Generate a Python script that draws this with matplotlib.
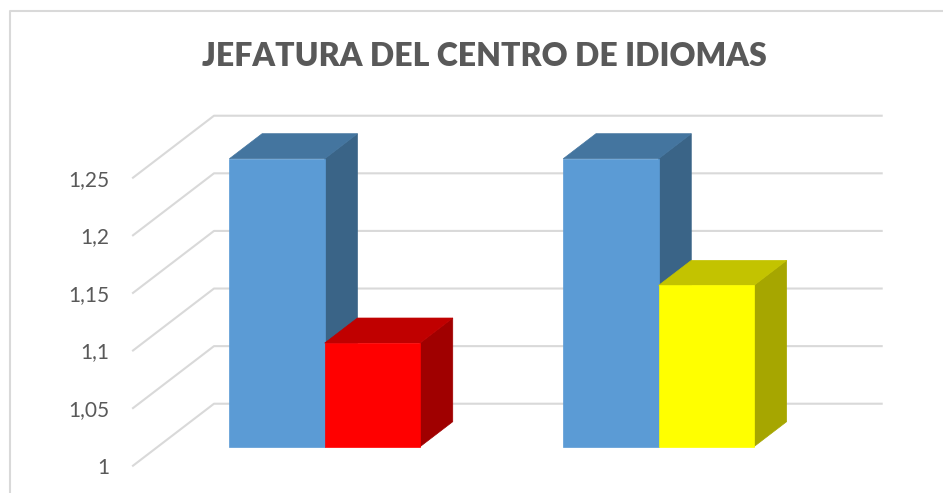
import matplotlib.pyplot as plt
from matplotlib.patches import Polygon
from matplotlib.lines import Line2D

# datos
categorias = ['Grupo 1', 'Grupo 2']
serie_azul = [1.25, 1.25]
serie_color = [1.09, 1.14]
colores_serie2 = ['red', 'yellow']
ticks = [1, 1.05, 1.1, 1.15, 1.2, 1.25]
tick_labels = ['1', '1,05', '1,1', '1,15', '1,2', '1,25']

# caras: frente, arriba, lado
caras = {
    'blue': ('#5B9BD5', '#44759F', '#3A6487'),
    'red': ('#FF0000', '#C00000', '#A00000'),
    'yellow': ('#FFFF00', '#C3C300', '#A6A600'),
}

W, H = 943, 493
fig = plt.figure(figsize=(W / 100, H / 100), dpi=100)
ax = fig.add_axes([133 / W, (H - 465.7) / H, 667.7 / W, 288 / H])
ax.set_xlim(0, 2)
ax.set_ylim(1, 1.25)
for s in ax.spines.values():
    s.set_visible(False)
ax.set_xticks([])
ax.set_yticks(ticks)
ax.set_yticklabels(tick_labels, fontsize=15, color='#595959', family='Lato')
ax.tick_params(axis='y', length=0, pad=17)

# proyeccion oblicua (profundidad d entre 0 y 1)
DX, DY = 0.2426, 0.0538


def proj(x, v, d):
    return (x + d * DX, v + d * DY)


grid_col = '#D9D9D9'
for t in ticks:
    p0, p1, p2 = proj(0, t, 0), proj(0, t, 1), proj(2, t, 1)
    ax.plot([p0[0], p1[0], p2[0]], [p0[1], p1[1], p2[1]], color=grid_col,
            lw=1.5, clip_on=False, zorder=1)

f0, f1 = 0.306, 0.71
ancho = 0.2855


def barra(x0, val, col):
    frente, arriba, lado = caras[col]
    x1 = x0 + ancho
    side = [proj(x1, 1, f0), proj(x1, 1, f1), proj(x1, val, f1), proj(x1, val, f0)]
    top = [proj(x0, val, f0), proj(x1, val, f0), proj(x1, val, f1), proj(x0, val, f1)]
    front = [proj(x0, 1, f0), proj(x1, 1, f0), proj(x1, val, f0), proj(x0, val, f0)]
    for pts, c in [(side, lado), (top, arriba), (front, frente)]:
        ax.add_patch(Polygon(pts, closed=True, facecolor=c, edgecolor=c,
                             lw=0.5, clip_on=False, zorder=2))


for i in range(len(categorias)):
    centro = i + 0.5
    barra(centro - ancho, serie_azul[i], 'blue')
    barra(centro, serie_color[i], colores_serie2[i])

fig.text(484 / W, 1 - 56 / H, 'JEFATURA DEL CENTRO DE IDIOMAS', ha='center',
         va='center', fontsize=23, fontweight='heavy', color='#595959',
         family='Lato')

# borde del grafico
fig.add_artist(Line2D([10 / W, 10 / W, 1], [0, 1 - 11 / H, 1 - 11 / H],
                      transform=fig.transFigure, color='#D9D9D9', lw=1.5))

fig.savefig('out.png', dpi=100)
